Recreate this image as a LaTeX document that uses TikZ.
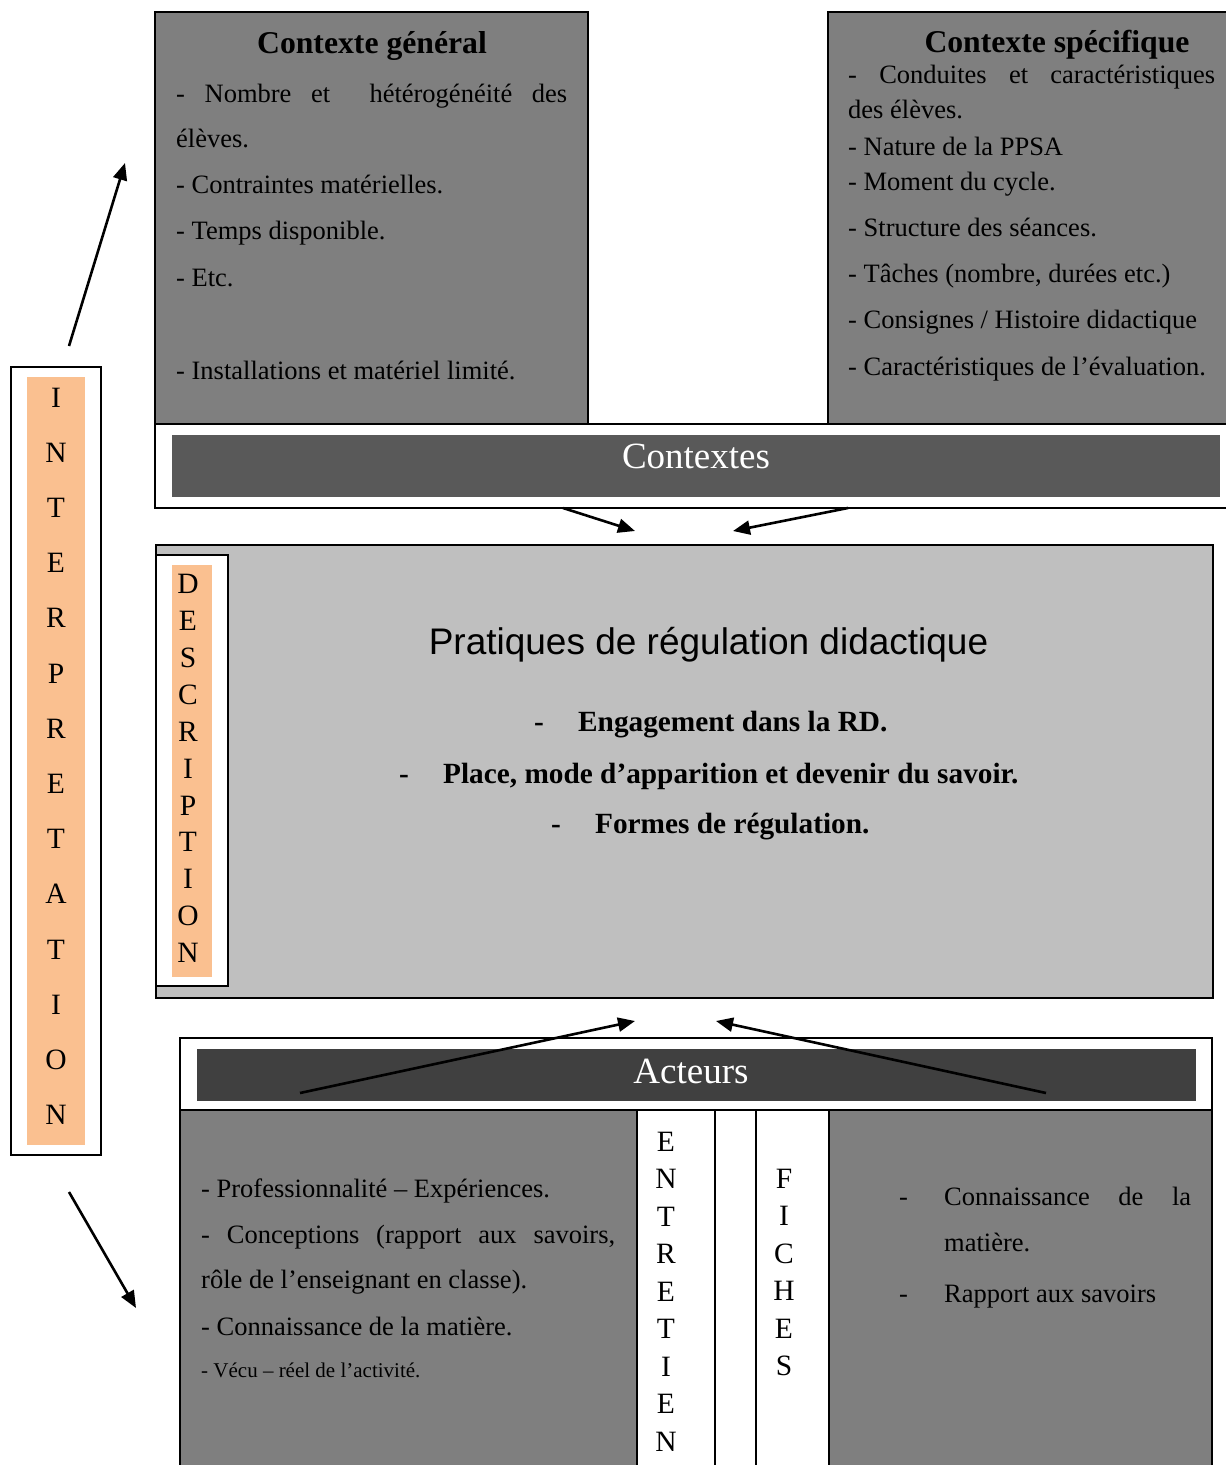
\documentclass[tikz,border=0pt]{standalone}
\usepackage{fontspec}
\setmainfont{Liberation Serif}
\newfontfamily\arial{Liberation Sans}
\usetikzlibrary{arrows.meta}
\definecolor{grisfonce}{HTML}{7F7F7F}
\definecolor{grisclair}{HTML}{BFBFBF}
\definecolor{barrectx}{HTML}{595959}
\definecolor{barreact}{HTML}{404040}
\definecolor{peche}{HTML}{FAC090}
\tikzset{
  cadre/.style={draw=black, line width=2pt},
  ligne/.style={anchor=base west, inner sep=0pt, font=\fontsize{26.5}{30}\selectfont},
  titre/.style={anchor=base, inner sep=0pt, font=\fontsize{31.7}{36}\selectfont\bfseries},
  puce/.style={anchor=base west, inner sep=0pt, font=\fontsize{29.3}{33}\selectfont\bfseries},
  bandeau/.style={anchor=base, inner sep=0pt, text=white, font=\fontsize{37}{40}\selectfont},
  lettre/.style={anchor=base, inner sep=0pt, font=\fontsize{29.5}{32}\selectfont},
  fleche/.style={-{Triangle[length=17pt,width=14pt]}, line width=2.6pt},
}

\begin{document}
\begin{tikzpicture}[x=1pt, y=-1pt]
    \useasboundingbox (0,0) rectangle (1226,1465);
    \clip (0,0) rectangle (1226,1465);

    \draw[cadre, fill=grisfonce] (155,12) rectangle (588,424);
    \node[titre] (cgtitre) at (372,53) {Contexte général};
    \node[ligne] (cg1) at (176,102) {\makebox[391pt][s]{- Nombre et \ hétérogénéité des}};
    \node[ligne] (cg2) at (176,147) {élèves.};
    \node[ligne] (cg3) at (176,193) {- Contraintes matérielles.};
    \node[ligne] (cg4) at (176,239) {- Temps disponible.};
    \node[ligne] (cg5) at (176,286) {- Etc.};
    \node[ligne] (cg6) at (176,379) {- Installations et matériel limité.};

    \draw[cadre, fill=grisfonce] (828,12) rectangle (1240,424);
    \node[titre] (cstitre) at (1057,52) {Contexte spécifique};
    \node[ligne] (cs1) at (848,83) {\makebox[367pt][s]{- Conduites et caractéristiques}};
    \node[ligne] (cs2) at (848,118) {des élèves.};
    \node[ligne] (cs3) at (848,155) {- Nature de la PPSA};
    \node[ligne] (cs4) at (848,190) {- Moment du cycle.};
    \node[ligne] (cs5) at (848,236) {- Structure des séances.};
    \node[ligne] (cs6) at (848,282) {- Tâches (nombre, durées etc.)};
    \node[ligne] (cs7) at (848,328) {- Consignes / Histoire didactique};
    \node[ligne] (cs8) at (848,375) {- Caractéristiques de l’évaluation.};

    \draw[cadre, fill=white] (155,424) rectangle (1240,508);
    \fill[barrectx] (172,435) rectangle (1220,497);
    \node[bandeau] (contextes) at (696,468) {Contextes};

    \draw[line width=1.5pt, fill=grisclair] (156,545) rectangle (1213,998);
    \draw[cadre, fill=white] (156,555) rectangle (228,986);
    \fill[peche] (172,565) rectangle (212,977);
    \foreach \l [count=\i] in {D,E,S,C,R,I,P,T,I,O,N}
    \node[lettre] (desc\i) at (188,{593.6+(\i-1)*36.9}) {\l};
    \node[anchor=base, inner sep=0pt, font=\arial\fontsize{37}{40}\selectfont] (pratiques) at (708.5,654) {Pratiques de régulation didactique};
    \node[puce] (rd1) at (534,731) {\makebox[44pt][l]{-}Engagement dans la RD.};
    \node[puce] (rd2) at (399,783) {\makebox[44pt][l]{-}Place, mode d’apparition et devenir du savoir.};
    \node[puce] (rd3) at (551,833) {\makebox[44pt][l]{-}Formes de régulation.};

    \draw[cadre, fill=white] (180,1038) rectangle (1212,1110);
    \fill[barreact] (196.5,1049) rectangle (1195.5,1100.5);
    \node[bandeau] (acteurs) at (691,1083) {Acteurs};

    \draw[cadre, fill=grisfonce] (180,1110) rectangle (636.5,1480);
    \draw[cadre, fill=grisfonce] (828.5,1110) rectangle (1212,1480);
    \draw[cadre] (714.5,1110) -- (714.5,1480);
    \draw[cadre] (755.5,1110) -- (755.5,1480);
    \node[ligne] (ac1) at (201,1197) {- Professionnalité – Expériences.};
    \node[ligne] (ac2) at (201,1243) {\makebox[414pt][s]{- Conceptions (rapport aux savoirs,}};
    \node[ligne] (ac3) at (201,1288) {rôle de l’enseignant en classe).};
    \node[ligne] (ac4) at (201,1335) {- Connaissance de la matière.};
    \node[ligne, font=\fontsize{21}{24}\selectfont] (ac5) at (201,1377) {- Vécu – réel de l’activité.};
    \node[ligne] (ad1) at (899,1205) {\makebox[45pt][l]{-}\makebox[247pt][s]{Connaissance de la}};
    \node[ligne] (ad2) at (944,1251) {matière.};
    \node[ligne] (ad3) at (899,1302) {\makebox[45pt][l]{-}Rapport aux savoirs};
    \foreach \l [count=\i] in {E,N,T,R,E,T,I,E,N}
    \node[lettre] (entr\i) at (666,{1151+(\i-1)*37.5}) {\l};
    \foreach \l [count=\i] in {F,I,C,H,E,S}
    \node[lettre] (fich\i) at (784,{1188+(\i-1)*37.5}) {\l};

    \draw[cadre, fill=white] (10.5,367) rectangle (101,1155);
    \fill[peche] (27,377) rectangle (85,1145);
    \foreach \l [count=\i] in {I,N,T,E,R,P,R,E,T,A,T,I,O,N}
    \node[lettre] (interp\i) at (56,{407+(\i-1)*55.2}) {\l};

    \coordinate (c1a) at (563,508);
    \coordinate (c1b) at (635,531);
    \coordinate (c2a) at (848,508);
    \coordinate (c2b) at (733,531);
    \coordinate (a1a) at (300,1093);
    \coordinate (a1b) at (635,1021);
    \coordinate (a2a) at (1046,1093);
    \coordinate (a2b) at (716,1021);
    \coordinate (i1a) at (69,346);
    \coordinate (i1b) at (125,163);
    \coordinate (i2a) at (69,1192);
    \coordinate (i2b) at (136,1308);
    \draw[fleche] (c1a) -- (c1b);
    \draw[fleche] (c2a) -- (c2b);
    \draw[fleche] (a1a) -- (a1b);
    \draw[fleche] (a2a) -- (a2b);
    \draw[fleche] (i1a) -- (i1b);
    \draw[fleche] (i2a) -- (i2b);

\end{tikzpicture}
\end{document}
